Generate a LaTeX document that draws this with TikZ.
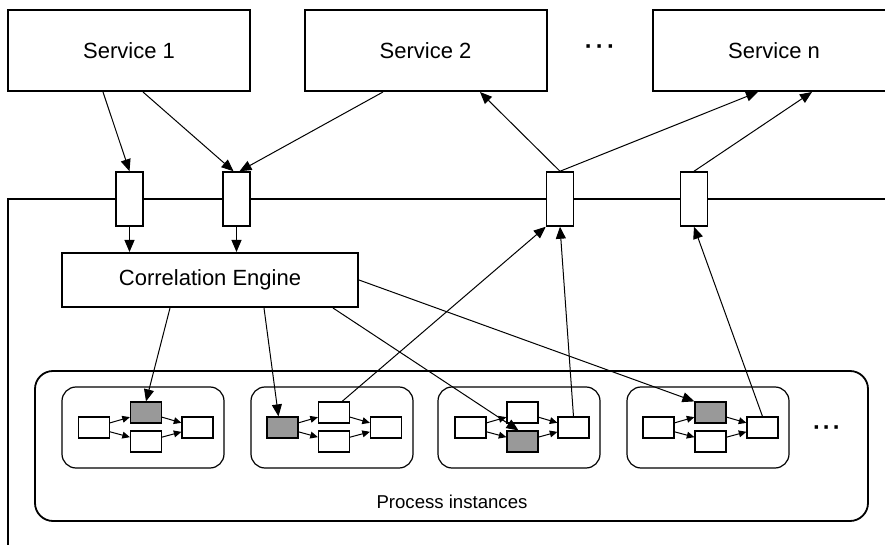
\documentclass[tikz,border=0pt]{standalone}
\usepackage{fontspec}
\setmainfont{Liberation Sans}
\usepackage{tikz}
\usetikzlibrary{positioning,arrows.meta}
\definecolor{taskgray}{HTML}{999999}
\tikzset {
    style service/.style={
        fill=white,
        draw=black,
        line width=1pt,
        rectangle, % Set the shape as a rectangle
        minimum width=121pt,
        minimum height=40.5pt,
        align=center,
        font=\fontsize{11}{13}\selectfont,
    },
    style port/.style={
        fill=white,
        draw=black,
        line width=0.75pt,
        rectangle, % Set the shape as a rectangle
        minimum width=13.5pt,
        minimum height=27pt,
        inner sep=0pt,
    },
    style process/.style={
        draw=black,
        line width=0.9pt,
        rectangle, % Set the shape as a rectangle
        rounded corners=9pt,
        minimum width=416.5pt,
        minimum height=75pt,
    },
    style instance/.style={
        draw=black,
        line width=0.6pt,
        rectangle, % Set the shape as a rectangle
        rounded corners=7pt,
        minimum width=81pt,
        minimum height=40.5pt,
    },
    style task/.style={
        fill=white,
        draw=black,
        line width=0.6pt,
        rectangle, % Set the shape as a rectangle
        minimum width=15.5pt,
        minimum height=10.5pt,
        inner sep=0pt,
    },
    style dots/.style={
        anchor=base,
        font=\fontsize{12}{14}\selectfont\bfseries,
    },
    style link/.style={
        -{Triangle[length=6pt,width=5pt]},
        line width=0.5pt,
    },
    style flow/.style={
        -{Triangle[length=3.8pt,width=3.4pt]},
        line width=0.5pt,
    },
}

\begin{document}
\begin{tikzpicture}
        [x=0.5pt, y=-0.5pt]
        \useasboundingbox (0,0) rectangle (885,545);
        \draw[line width=1pt] (8,560) -- (8,199) -- (900,199);

        \node[style service] (srv1) at (129,50.5) {Service 1};
        \node[style service] (srv2) at (425.5,50.5) {Service 2};
        \node[style service] (srvn) at (774,50.5) {Service n};
        \node[style dots] (dotsTop) at (600,55) {·\kern1.6pt·\kern1.6pt·};

        \node[style port] (p1) at (129.5,199) {};
        \node[style port] (p2) at (236.5,199) {};
        \node[style port] (p3) at (560,199) {};
        \node[style port] (p4) at (694,199) {};

        \node[style service, minimum width=148pt, minimum height=27pt] (ce) at (210,280) {Correlation Engine};

        \node[style process] (proc) at (451.5,446) {};
        \node[font=\fontsize{9.3}{11}\selectfont] (procLabel) at (452,502) {Process instances};
        \node[style dots] (dotsRight) at (827,436) {·\kern1pt·\kern1pt·};

        % instance 1
        \node[style instance] (inst1) at (143,427.5) {};
        \node[style task] (l1) at (94,427.5) {};
        \node[style task, fill=taskgray] (t1) at (146,412.5) {};
        \node[style task] (b1) at (146,441.5) {};
        \node[style task] (r1) at (197.5,427.5) {};
        \draw[style flow] (l1) -- (t1);
        \draw[style flow] (l1) -- (b1);
        \draw[style flow] (t1) -- (r1);
        \draw[style flow] (b1) -- (r1);

        % instance 2
        \node[style instance] (inst2) at (332,427.5) {};
        \node[style task, fill=taskgray] (l2) at (282.5,427.5) {};
        \node[style task] (t2) at (334,412.5) {};
        \node[style task] (b2) at (334,441.5) {};
        \node[style task] (r2) at (386,427.5) {};
        \draw[style flow] (l2) -- (t2);
        \draw[style flow] (l2) -- (b2);
        \draw[style flow] (t2) -- (r2);
        \draw[style flow] (b2) -- (r2);

        % instance 3
        \node[style instance] (inst3) at (519,427.5) {};
        \node[style task] (l3) at (470.5,427.5) {};
        \node[style task] (t3) at (522.5,412.5) {};
        \node[style task, fill=taskgray] (b3) at (522.5,441.5) {};
        \node[style task] (r3) at (573.5,427.5) {};
        \draw[style flow] (l3) -- (t3);
        \draw[style flow] (l3) -- (b3);
        \draw[style flow] (t3) -- (r3);
        \draw[style flow] (b3) -- (r3);

        % instance 4
        \node[style instance] (inst4) at (708,427.5) {};
        \node[style task] (l4) at (658.5,427.5) {};
        \node[style task, fill=taskgray] (t4) at (710.5,412.5) {};
        \node[style task] (b4) at (710.5,441.5) {};
        \node[style task] (r4) at (762.5,427.5) {};
        \draw[style flow] (l4) -- (t4);
        \draw[style flow] (l4) -- (b4);
        \draw[style flow] (t4) -- (r4);
        \draw[style flow] (b4) -- (r4);

        \draw[style link] ([xshift=-13pt]srv1.south) -- (p1.north);
        \draw[style link] ([xshift=7pt]srv1.south) -- ([xshift=-1.5pt]p2.north);
        \draw[style link] ([xshift=-21.25pt]srv2.south) -- ([xshift=1.5pt]p2.north);
        \draw[style link] (p1.south) -- (p1.south |- ce.north);
        \draw[style link] (p2.south) -- (p2.south |- ce.north);
        \draw[style link] (p3.north) -- ([xshift=27.25pt]srv2.south);
        \draw[style link] (p3.north) -- ([xshift=-8pt]srvn.south);
        \draw[style link] (p4.north) -- ([xshift=19pt]srvn.south);
        \draw[style link] ([xshift=-20pt]ce.south) -- (t1.north);
        \draw[style link] ([xshift=27pt]ce.south) -- ([xshift=-2pt]l2.north);
        \draw[style link] ([xshift=61.5pt]ce.south) -- ([xshift=-2pt]b3.north);
        \draw[style link] (ce.east) -- (t4.north west);
        \draw[style link] ([xshift=-4pt]t2.north east) -- (p3.south west);
        \draw[style link] (r3.north) -- (p3.south);
        \draw[style link] (r4.north) -- (p4.south);
    \end{tikzpicture}
\end{document}
